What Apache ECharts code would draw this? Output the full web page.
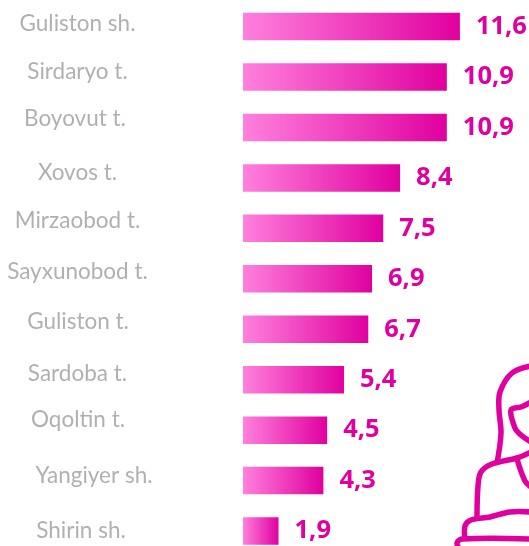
<!DOCTYPE html>
<html>
<head>
<meta charset="utf-8">
<style>html,body{margin:0;padding:0;background:#fff}#main{width:529px;height:546px}</style>
<script src="https://cdn.jsdelivr.net/npm/echarts@6/dist/echarts.min.js"></script>
</head>
<body>
<div id="main"></div>
<script>
var categories = ['Guliston sh.','Sirdaryo t.','Boyovut t.','Xovos t.','Mirzaobod t.','Sayxunobod t.','Guliston t.','Sardoba t.','Oqoltin t.','Yangiyer sh.','Shirin sh.'];
var values = [11.6,10.9,10.9,8.4,7.5,6.9,6.7,5.4,4.5,4.3,1.9];
// names are not lined up in the original, each one is nudged by hand
var nameShiftX = [-165.5,-165.5,-168,-165.5,-165.5,-165.5,-165,-165.5,-165,-149,-162];
var nameShiftY = [-3,-5,-9,-5,-8,-7,-8,-6,-10,-5,0];

var pink = '#e0009f';
var myChart = echarts.init(document.getElementById('main'));

// the outline figure in the corner
function iconLine(points) {
    return {
        type: 'polyline',
        silent: true,
        shape: { points: points, smooth: 0.35 },
        style: { fill: null, stroke: pink, lineWidth: 5.5 }
    };
}

var option = {
    animation: false,
    backgroundColor: '#fff',
    // last row runs past the bottom edge, so the grid has to as well
    grid: { left: 243, width: 280.5, top: 1.3, height: 555, outerBoundsMode: 'none' },
    xAxis: { type: 'value', min: 0, max: 15, show: false },
    yAxis: {
        type: 'category',
        inverse: true,
        data: categories,
        axisLine: { show: false },
        axisTick: { show: false },
        axisLabel: { show: false }
    },
    series: [
        {
            type: 'bar',
            data: values,
            barWidth: 27.5,
            itemStyle: {
                color: new echarts.graphic.LinearGradient(0, 0, 1, 0, [
                    { offset: 0, color: '#ff80dd' },
                    { offset: 1, color: pink }
                ])
            },
            label: {
                show: true,
                position: 'right',
                distance: 16,
                color: pink,
                fontFamily: 'Open Sans',
                fontWeight: 'bold',
                fontSize: 25.5,
                formatter: function (p) { return String(p.value).replace('.', ','); }
            }
        },
        {
            type: 'scatter',
            symbolSize: 0,
            silent: true,
            data: categories.map(function (c, i) {
                return {
                    value: [0, c],
                    label: {
                        show: true,
                        position: 'inside',
                        align: 'center',
                        verticalAlign: 'middle',
                        offset: [nameShiftX[i], nameShiftY[i]],
                        formatter: c,
                        color: '#9c9c9c',
                        fontFamily: 'Lato',
                        fontSize: 22.5
                    }
                };
            })
        }
    ],
    graphic: [
        iconLine([[531,366],[512,373],[500,392],[499,410],[501,433],[497,463]]),
        iconLine([[531,402],[521,407],[511,410],[515,428],[521,435],[531,442]]),
        iconLine([[531,452],[517,458],[492,464],[481,472],[478,486],[477,518]]),
        iconLine([[517,459],[525,481],[531,487]]),
        iconLine([[531,512],[510,512],[490,517],[471,520],[465,526],[465,539]]),
        iconLine([[531,539],[462,539],[457,543],[459,548]])
    ]
};
myChart.setOption(option);
</script>
</body>
</html>
